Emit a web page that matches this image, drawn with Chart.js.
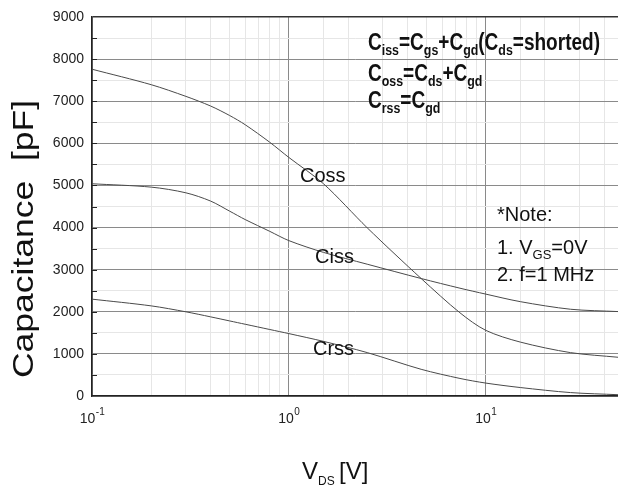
<!DOCTYPE html>
<html>
<head>
<meta charset="utf-8">
<script src="https://cdn.jsdelivr.net/npm/chart.js@4.4.1/dist/chart.umd.min.js"></script>
<style>
  html, body { margin: 0; padding: 0; background: #fff; }
  #wrap { width: 618px; height: 486px; }
</style>
</head>
<body>
<div id="wrap"><canvas id="cap" width="618" height="486"></canvas></div>
<script>
// ---- data ----
const vds  = [0.1, 0.2, 0.3, 0.4, 0.5, 0.6, 0.8, 1, 1.5, 2.5, 4.7, 7.4, 10, 15, 27, 47];
const coss = [7760, 7392, 7115, 6887, 6661, 6442, 6025, 5665, 5040, 3995, 2790, 1976, 1560, 1280, 1030, 920];
const ciss = [5040, 4960, 4825, 4630, 4390, 4190, 3910, 3690, 3410, 3130, 2790, 2560, 2420, 2240, 2060, 2005];
const crss = [2300, 2140, 1999, 1880, 1783, 1704, 1579, 1482, 1297, 1031, 634, 417, 307, 201, 81, 31];

const xMin = 0.1, xMax = 47;
const yMin = 0, yMax = 9000, yStep = 500;
const xDecades = [-1, 0, 1];   // exponents labelled on the x axis

const FONT = "'Liberation Sans', Arial, sans-serif";

function isDecade(v) {
  const l = Math.log10(v);
  return Math.abs(l - Math.round(l)) < 1e-6;
}

function pts(ys) {
  return vds.map((x, i) => ({ x: x, y: ys[i] }));
}

// draw text made of normal / subscript pieces, squeezed by sx
function drawRich(ctx, x, y, parts, mainFont, subFont, subDy, sx) {
  ctx.save();
  ctx.translate(x, y);
  ctx.scale(sx, 1);
  let cx = 0;
  parts.forEach(([t, sub]) => {
    ctx.font = sub ? subFont : mainFont;
    ctx.fillText(t, cx, sub ? subDy : 0);
    cx += ctx.measureText(t).width;
  });
  ctx.restore();
}

function richWidth(ctx, parts, mainFont, subFont) {
  let w = 0;
  parts.forEach(([t, sub]) => {
    ctx.font = sub ? subFont : mainFont;
    w += ctx.measureText(t).width;
  });
  return w;
}

const textPlugin = {
  id: 'capText',
  afterDraw(chart) {
    const ctx = chart.ctx;
    const xs = chart.scales.x, ys = chart.scales.y;
    const area = chart.chartArea;
    ctx.save();
    ctx.fillStyle = '#111';
    ctx.textBaseline = 'alphabetic';
    ctx.textAlign = 'left';

    // inward ticks on the left axis
    ctx.strokeStyle = '#222';
    ctx.lineWidth = 1;
    for (let v = yMin + yStep; v < yMax; v += yStep) {
      const py = Math.round(ys.getPixelForValue(v)) + 0.5;
      ctx.beginPath();
      ctx.moveTo(area.left, py);
      ctx.lineTo(area.left + 5, py);
      ctx.stroke();
    }

    // x tick labels 10^n
    xDecades.forEach(e => {
      const px = xs.getPixelForValue(Math.pow(10, e));
      const sup = e < 0 ? '-' + (-e) : String(e);
      ctx.font = '14px ' + FONT;
      const w1 = ctx.measureText('10').width;
      ctx.font = '10px ' + FONT;
      const w2 = ctx.measureText(sup).width;
      const x0 = px - (w1 + w2) / 2;
      ctx.fillStyle = '#222';
      ctx.font = '14px ' + FONT;
      ctx.fillText('10', x0, 423);
      ctx.font = '10px ' + FONT;
      ctx.fillText(sup, x0 + w1 + 0.5, 415);
    });

    ctx.fillStyle = '#111';

    // y axis title
    ctx.save();
    ctx.translate(33, 239);
    ctx.rotate(-Math.PI / 2);
    ctx.font = '30px ' + FONT;
    const yt = 'Capacitance  [pF]';
    const ytw = ctx.measureText(yt).width;
    ctx.scale(278 / ytw, 1);
    ctx.textAlign = 'center';
    ctx.fillText(yt, 0, 0);
    ctx.restore();

    // x axis title
    ctx.font = '24px ' + FONT;
    ctx.fillText('V', 302, 479);
    ctx.font = '12px ' + FONT;
    ctx.fillText('DS', 318, 485);
    ctx.font = '24px ' + FONT;
    ctx.fillText('[V]', 339, 479);

    // curve labels
    ctx.font = '20px ' + FONT;
    ctx.fillText('Coss', 300, 182);
    ctx.fillText('Ciss', 315, 263);
    ctx.fillText('Crss', 313, 355);

    // note
    ctx.fillText('*Note:', 497, 221);
    drawRich(ctx, 497, 254, [['1. V', false], ['GS', true], ['=0V', false]],
      '20px ' + FONT, '13px ' + FONT, 5, 1);
    ctx.font = '20px ' + FONT;
    ctx.fillText('2. f=1 MHz', 497, 281);

    // formulas
    const mf = 'bold 23px ' + FONT, sf = 'bold 15px ' + FONT;
    const l1 = [['C', 0], ['iss', 1], ['=C', 0], ['gs', 1], ['+C', 0], ['gd', 1], ['(C', 0], ['ds', 1], ['=shorted)', 0]];
    const l2 = [['C', 0], ['oss', 1], ['=C', 0], ['ds', 1], ['+C', 0], ['gd', 1]];
    const l3 = [['C', 0], ['rss', 1], ['=C', 0], ['gd', 1]];
    const sx = 232 / richWidth(ctx, l1, mf, sf);
    drawRich(ctx, 368, 50, l1, mf, sf, 5, sx);
    drawRich(ctx, 368, 81, l2, mf, sf, 5, sx);
    drawRich(ctx, 368, 108, l3, mf, sf, 5, sx);

    ctx.restore();
  }
};

const lineStyle = {
  borderColor: '#4a4a4a',
  borderWidth: 1,
  pointRadius: 0,
  fill: false,
  tension: 0.3
};

new Chart(document.getElementById('cap'), {
  type: 'line',
  data: {
    datasets: [
      Object.assign({ label: 'Coss', data: pts(coss) }, lineStyle),
      Object.assign({ label: 'Ciss', data: pts(ciss) }, lineStyle),
      Object.assign({ label: 'Crss', data: pts(crss) }, lineStyle)
    ]
  },
  options: {
    responsive: false,
    animation: false,
    layout: { padding: { left: 0, right: 0, top: 17, bottom: 0 } },
    plugins: { legend: { display: false }, tooltip: { enabled: false } },
    scales: {
      x: {
        type: 'logarithmic',
        min: xMin,
        max: xMax,
        ticks: { display: false },
        grid: {
          drawTicks: false,
          color: c => (c.tick && isDecade(c.tick.value)) ? '#8a8a8a' : '#e6e6e6',
          lineWidth: 1
        },
        border: { color: '#222', width: 1.5 },
        afterFit: s => { s.height = 90; }
      },
      y: {
        min: yMin,
        max: yMax,
        ticks: {
          stepSize: yStep,
          padding: 8,
          color: '#222',
          font: { size: 14, family: FONT },
          callback: v => (v % 1000 === 0 ? String(v) : '')
        },
        grid: {
          drawTicks: false,
          color: c => {
            const v = c.tick ? c.tick.value : 0;
            if (v === yMax) return '#333';
            return v % 1000 === 0 ? '#8a8a8a' : '#e6e6e6';
          },
          lineWidth: c => (c.tick && c.tick.value === yMax) ? 1.5 : 1
        },
        border: { color: '#222', width: 1.5 },
        afterFit: s => { s.width = 92; }
      }
    }
  },
  plugins: [textPlugin]
});
</script>
</body>
</html>
